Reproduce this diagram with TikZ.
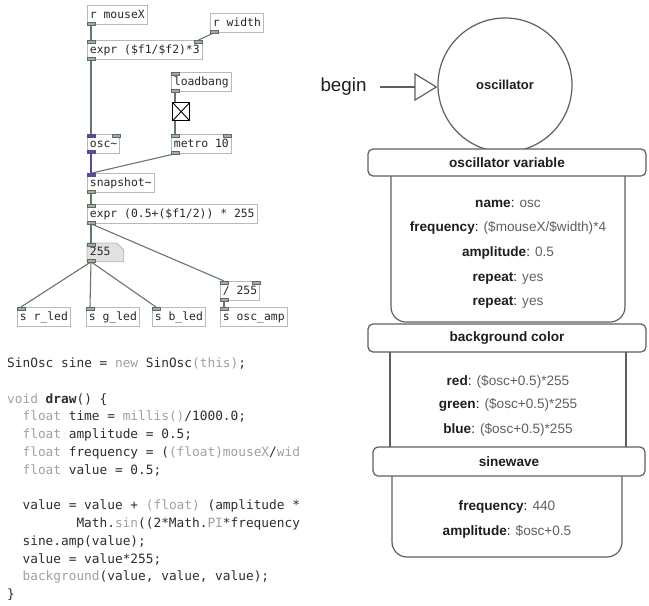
\documentclass[tikz,border=0pt]{standalone}
\usepackage{fontspec}
\setmainfont{Liberation Sans}
\newfontfamily\pdfont{DejaVu Sans Mono}
\newfontfamily\codefont{DejaVu Sans Mono}
\usetikzlibrary{calc,arrows.meta}
\definecolor{pdborder}{RGB}{185,185,185}
\definecolor{pdtext}{RGB}{40,40,40}
\definecolor{pdiofill}{RGB}{160,175,160}
\definecolor{pdioline}{RGB}{90,110,95}
\definecolor{pdwire}{RGB}{100,120,105}
\definecolor{pdsig}{RGB}{90,75,150}
\definecolor{numfill}{RGB}{225,225,225}
\definecolor{codedark}{RGB}{45,45,45}
\definecolor{codegray}{RGB}{160,160,160}
\definecolor{rline}{RGB}{95,95,95}
\definecolor{rtext}{RGB}{30,30,30}
\definecolor{rval}{RGB}{95,95,95}
\newcommand\kw[1]{\textcolor{codegray}{#1}}
\newcommand\pdin[1]{\filldraw[fill=pdiofill,draw=pdioline,line width=0.5pt] (#1.north west) rectangle ++(8,3);}
\newcommand\pdinr[1]{\filldraw[fill=pdiofill,draw=pdioline,line width=0.5pt] (#1.north east) rectangle ++(-8,3);}
\newcommand\pdout[1]{\filldraw[fill=pdiofill,draw=pdioline,line width=0.5pt] (#1.south west) rectangle ++(8,-3);}
\begin{document}
\begin{tikzpicture}[x=1pt,y=-1pt,
  pdbox/.style={draw=pdborder, line width=0.8pt, fill=white, anchor=north west,
    inner xsep=2.5pt, inner ysep=0pt, minimum height=19pt,
    font=\pdfont\fontsize{11.4}{13}\selectfont, text=pdtext,
    text height=8.5pt, text depth=2.2pt},
  wire/.style={draw=pdwire, line width=1.1pt},
  sigwire/.style={draw=pdsig, line width=2.6pt},
  code/.style={anchor=base west, inner sep=0pt,
    font=\codefont\fontsize{12.8}{14}\selectfont, text=codedark},
  hdr/.style={draw=rline, line width=1.2pt, fill=white, rounded corners=5pt,
    font=\bfseries\fontsize{13.6}{16}\selectfont, text=rtext, inner sep=0pt},
  btxt/.style={font=\fontsize{13.6}{16}\selectfont, text=rtext, inner sep=0pt},
  rshape/.style={draw=rline, line width=1.2pt}
]
\useasboundingbox (0,0) rectangle (649,606);

% ---------------- Pd patch ----------------
\node[pdbox] (mx) at (87,5) {r mouseX};
\node[pdbox] (rw) at (210,13) {r width};
\node[pdbox] (e1) at (87,40) {expr (\$f1/\$f2)*3};
\node[pdbox] (lb) at (171,72) {loadbang};
\node[draw=black, line width=1.3pt, fill=white, anchor=north west,
      minimum width=17pt, minimum height=18pt, inner sep=0pt] (tg) at (172,102) {};
\draw[black, line width=0.9pt] ($(tg.north west)+(1,1)$) -- ($(tg.south east)+(-1,-1)$)
                               ($(tg.north east)+(-1,1)$) -- ($(tg.south west)+(1,-1)$);
\node[pdbox] (osc) at (87,134) {osc\textasciitilde};
\node[pdbox] (met) at (171,134) {metro 10};
\node[pdbox] (snap) at (87,173) {snapshot\textasciitilde};
\node[pdbox] (e2) at (87,204) {expr (0.5+(\$f1/2)) * 255};
\node[pdbox, draw=none, fill=none, minimum height=18pt, text width=31pt, align=left] (num) at (87,243) {\phantom{255}};
\draw[draw=pdborder, fill=numfill, line width=0.8pt]
  (num.north west) -- ($(num.north east)+(-7,0)$) -- ($(num.north east)+(0,7)$)
  -- (num.south east) -- (num.south west) -- cycle;
\node[pdbox, draw=none, fill=none, minimum height=18pt, text width=31pt, align=left] (numtxt) at (num.north west) {255};
\node[pdbox] (div) at (220,281) {/ 255};
\node[pdbox] (sr) at (17,307) {s r\_led};
\node[pdbox] (sg) at (86,307) {s g\_led};
\node[pdbox] (sb) at (152,307) {s b\_led};
\node[pdbox] (so) at (220,307) {s osc\_amp};

% wires
\draw[wire] ($(mx.south west)+(4,0)$) -- ($(e1.north west)+(4,0)$);
\draw[wire] ($(rw.south west)+(4,0)$) -- ($(e1.north east)+(-4,0)$);
\draw[wire] ($(e1.south west)+(4,0)$) -- ($(osc.north west)+(4,0)$);
\draw[wire] ($(lb.south west)+(4,0)$) -- ($(tg.north west)+(3,0)$);
\draw[wire] ($(tg.south west)+(3,0)$) -- ($(met.north west)+(4,0)$);
\draw[wire] ($(met.south west)+(4,0)$) -- ($(snap.north west)+(5,0)$);
\draw[sigwire] ($(osc.south west)+(4,0)$) -- ($(snap.north west)+(4,0)$);
\draw[wire] ($(snap.south west)+(4,0)$) -- ($(e2.north west)+(4,0)$);
\draw[wire] ($(e2.south west)+(4,0)$) -- ($(num.north west)+(4,0)$);
\draw[wire] ($(e2.south west)+(4,0)$) -- ($(div.north west)+(4,0)$);
\draw[wire] ($(num.south west)+(4,0)$) -- ($(sr.north west)+(4,0)$);
\draw[wire] ($(num.south west)+(4,0)$) -- ($(sg.north west)+(4,0)$);
\draw[wire] ($(num.south west)+(4,0)$) -- ($(sb.north west)+(4,0)$);
\draw[wire] ($(div.south west)+(4,0)$) -- ($(so.north west)+(4,0)$);

% inlets / outlets
\pdout{mx}
\pdout{rw}
\pdin{e1}\pdinr{e1}\pdout{e1}
\pdin{lb}\pdout{lb}
\fill[pdsig] (osc.north west) rectangle ++(9,3.5);
\pdinr{osc}
\fill[pdsig] (osc.south west) rectangle ++(9,-3.5);
\pdin{met}\pdinr{met}\pdout{met}
\fill[pdsig] (snap.north west) rectangle ++(9,3.5);
\pdout{snap}
\pdin{e2}\pdout{e2}
\pdin{num}\pdout{num}
\pdin{div}\pdinr{div}\pdout{div}
\pdin{sr}\pdin{sg}\pdin{sb}\pdin{so}

% ---------------- code ----------------
\begin{scope}
\clip (0,340) rectangle (306,606);
\node[code] (c0) at (7,367.5) {SinOsc sine = \kw{new} SinOsc\kw{(this)};};
\node[code] (c2) at (7,403.0) {\kw{void} \textbf{draw}() \{};
\node[code] (c3) at (22.4,420.8) {\kw{float} time = \kw{millis()}/1000.0;};
\node[code] (c4) at (22.4,438.6) {\kw{float} amplitude = 0.5;};
\node[code] (c5) at (22.4,456.4) {\kw{float} frequency = (\kw{(float)mouseX}/\kw{wid}};
\node[code] (c6) at (22.4,474.1) {\kw{float} value = 0.5;};
\node[code] (c8) at (22.4,509.7) {value = value + \kw{(float)} (amplitude *};
\node[code] (c9) at (76.3,527.4) {Math.\kw{sin}((2*Math.\kw{PI}*frequency};
\node[code] (c10) at (22.4,545.2) {sine.amp(value);};
\node[code] (c11) at (22.4,563.0) {value = value*255;};
\node[code] (c12) at (22.4,580.8) {\kw{background}(value, value, value);};
\node[code] (c13) at (7,598.5) {\}};
\end{scope}

% ---------------- right diagram ----------------
\node[rshape, fill=white, circle, minimum size=134pt, inner sep=0pt,
      font=\bfseries\fontsize{13}{15}\selectfont, text=rtext] (oc) at (505,85) {oscillator};
\node[font=\fontsize{18.8}{20}\selectfont, text=rtext, inner sep=0pt] (bg) at (343.5,87) {begin};
\draw[rshape, shorten <=13pt, -{Triangle[open, length=23pt, width=28pt, line width=1.2pt]}]
  (bg.east) -- (bg.east -| oc.west);

\draw[rshape, rounded corners=15pt] (391,176) -- (391,322) -- (625,322) -- (625,176);
\draw[rshape] (390,352) -- (390,447) (626,352) -- (626,447);
\draw[rshape, rounded corners=15pt] (392,476) -- (392,557) -- (622,557) -- (622,476);

\node[hdr, minimum width=278pt, minimum height=27pt] (h1) at (507,162.5) {oscillator variable};
\node[hdr, minimum width=278pt, minimum height=28pt] (h2) at (507,338) {background color};
\node[hdr, minimum width=272pt, minimum height=29pt] (h3) at (509,461.5) {sinewave};

\node[btxt] (t1) at (508,204) {\textbf{name}: \textcolor{rval}{osc}};
\node[btxt] (t2) at (508,228) {\textbf{frequency}: \textcolor{rval}{(\$mouseX/\$width)*4}};
\node[btxt] (t3) at (508,253) {\textbf{amplitude}: \textcolor{rval}{0.5}};
\node[btxt] (t4) at (508,278) {\textbf{repeat}: \textcolor{rval}{yes}};
\node[btxt] (t5) at (508,302) {\textbf{repeat}: \textcolor{rval}{yes}};

\node[btxt] (t6) at (508,382) {\textbf{red}: \textcolor{rval}{(\$osc+0.5)*255}};
\node[btxt] (t7) at (508,405) {\textbf{green}: \textcolor{rval}{(\$osc+0.5)*255}};
\node[btxt] (t8) at (508,430) {\textbf{blue}: \textcolor{rval}{(\$osc+0.5)*255}};

\node[btxt] (t9) at (507,507) {\textbf{frequency}: \textcolor{rval}{440}};
\node[btxt] (t10) at (507,532) {\textbf{amplitude}: \textcolor{rval}{\$osc+0.5}};
\end{tikzpicture}
\end{document}
